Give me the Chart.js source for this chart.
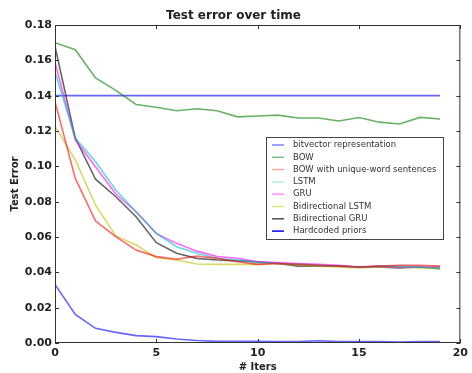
<!DOCTYPE html>
<html>
<head>
<meta charset="utf-8">
<script src="https://cdn.jsdelivr.net/npm/chart.js@4"></script>
<style>
  html, body { margin: 0; padding: 0; background: #fff; }
  #wrap { width: 472px; height: 373px; }
</style>
</head>
<body>
<div id="wrap"><canvas id="chart" width="472" height="373"></canvas></div>
<script>
// valores
const iters = [0, 1, 2, 3, 4, 5, 6, 7, 8, 9, 10, 11, 12, 13, 14, 15, 16, 17, 18, 19];

const bitvector = [0.0332, 0.0162, 0.0083, 0.0060, 0.0042, 0.0036, 0.0023, 0.0014, 0.0009, 0.0010,
                   0.0010, 0.0008, 0.0008, 0.0013, 0.0008, 0.0008, 0.0008, 0.0005, 0.0008, 0.0008];
const bow = [0.170, 0.166, 0.150, 0.143, 0.135, 0.1334, 0.1315, 0.1326, 0.1315, 0.128,
             0.1285, 0.129, 0.1274, 0.1274, 0.1257, 0.1276, 0.125, 0.124, 0.1277, 0.1268];
const bowUnique = [0.1366, 0.0932, 0.069, 0.0602, 0.0526, 0.0489, 0.0474, 0.0492, 0.0479, 0.046,
                   0.0445, 0.045, 0.0445, 0.044, 0.0435, 0.043, 0.0435, 0.044, 0.044, 0.0435];
const lstm = [0.1535, 0.116, 0.1026, 0.0866, 0.0743, 0.0621, 0.0545, 0.0508, 0.048, 0.047,
              0.0455, 0.045, 0.0445, 0.044, 0.0435, 0.043, 0.0435, 0.0435, 0.043, 0.0425];
const gru = [0.159, 0.115, 0.0998, 0.0843, 0.0743, 0.0619, 0.0564, 0.052, 0.049, 0.048,
             0.046, 0.0455, 0.045, 0.0445, 0.044, 0.043, 0.0435, 0.043, 0.043, 0.043];
const biLstm = [0.1228, 0.1036, 0.078, 0.0606, 0.0555, 0.0483, 0.047, 0.0447, 0.0445, 0.0445,
                0.0445, 0.045, 0.044, 0.0435, 0.043, 0.0425, 0.043, 0.043, 0.0425, 0.042];
const biGru = [0.168, 0.116, 0.0927, 0.0828, 0.0715, 0.0568, 0.0508, 0.0479, 0.047, 0.0465,
               0.046, 0.045, 0.0435, 0.0435, 0.0435, 0.043, 0.043, 0.0425, 0.043, 0.042];
const hardcoded = iters.map(() => 0.14);

const seriesNames = ['bitvector representation', 'BOW', 'BOW with unique-word sentences', 'LSTM',
                     'GRU', 'Bidirectional LSTM', 'Bidirectional GRU', 'Hardcoded priors'];
const seriesValues = [bitvector, bow, bowUnique, lstm, gru, biLstm, biGru, hardcoded];
const seriesColors = ['rgba(0,0,255,0.6)', 'rgba(0,128,0,0.6)', 'rgba(255,0,0,0.6)', 'rgba(0,191,191,0.6)',
                      'rgba(255,0,255,0.6)', 'rgba(191,191,0,0.6)', 'rgba(0,0,0,0.6)', 'rgba(0,0,255,0.6)'];
const legendColors = ['rgba(0,0,255,0.5)', 'rgba(0,128,0,0.5)', 'rgba(255,0,0,0.35)', 'rgba(0,191,191,0.3)',
                      'rgba(255,0,255,0.45)', 'rgba(191,191,0,0.5)', 'rgba(0,0,0,0.7)', 'rgba(0,0,255,1)'];

const yTicks = [0, 0.02, 0.04, 0.06, 0.08, 0.10, 0.12, 0.14, 0.16, 0.18];
const xTicks = [0, 5, 10, 15, 20];

const datasets = seriesNames.map((name, i) => ({
    label: name,
    data: iters.map((x, j) => ({ x: x, y: seriesValues[i][j] })),
    borderColor: seriesColors[i],
    backgroundColor: seriesColors[i],
    legendColor: legendColors[i],
    borderWidth: 1.6,
    pointRadius: 0,
    tension: 0,
    fill: false
}));

// moldura e ticks para dentro, estilo matplotlib
const framePlugin = {
    id: 'frame',
    afterDatasetsDraw(chart) {
        const ctx = chart.ctx;
        const a = chart.chartArea;
        const xs = chart.scales.x, ys = chart.scales.y;
        ctx.save();
        ctx.strokeStyle = '#333';
        ctx.lineWidth = 1;
        ctx.strokeRect(a.left + 0.5, a.top + 0.5, a.right - a.left - 1, a.bottom - a.top - 1);
        ctx.beginPath();
        xTicks.forEach(v => {
            const px = Math.round(xs.getPixelForValue(v)) + 0.5;
            ctx.moveTo(px, a.bottom); ctx.lineTo(px, a.bottom - 4);
            ctx.moveTo(px, a.top); ctx.lineTo(px, a.top + 4);
        });
        yTicks.forEach(v => {
            const py = Math.round(ys.getPixelForValue(v)) + 0.5;
            ctx.moveTo(a.left, py); ctx.lineTo(a.left + 4, py);
            ctx.moveTo(a.right, py); ctx.lineTo(a.right - 4, py);
        });
        ctx.stroke();
        ctx.restore();
    }
};

// legenda dentro da area do grafico
const legendPlugin = {
    id: 'innerLegend',
    afterDraw(chart) {
        const ctx = chart.ctx;
        const box = { x: 266, y: 137, w: 177, h: 102 };
        ctx.save();
        ctx.fillStyle = '#fff';
        ctx.fillRect(box.x, box.y, box.w, box.h);
        ctx.strokeStyle = '#444';
        ctx.lineWidth = 1;
        ctx.strokeRect(box.x + 0.5, box.y + 0.5, box.w, box.h);
        ctx.font = '8.5px "DejaVu Sans"';
        ctx.textBaseline = 'middle';
        chart.data.datasets.forEach((ds, i) => {
            const y = box.y + 8 + i * 12.3;
            ctx.strokeStyle = ds.legendColor;
            ctx.lineWidth = 1.5;
            ctx.beginPath();
            ctx.moveTo(272, y); ctx.lineTo(284, y);
            ctx.stroke();
            ctx.fillStyle = '#333';
            ctx.fillText(ds.label, 293, y);
        });
        ctx.restore();
    }
};

new Chart(document.getElementById('chart'), {
    type: 'line',
    data: { datasets: datasets },
    plugins: [framePlugin, legendPlugin],
    options: {
        responsive: false,
        animation: false,
        layout: { autoPadding: false, padding: { left: 0, right: 5, top: 0, bottom: 0 } },
        scales: {
            x: {
                type: 'linear',
                min: 0,
                max: 20,
                afterFit: scale => { scale.height = 30; },
                afterBuildTicks: scale => { scale.ticks = xTicks.map(v => ({ value: v })); },
                grid: { display: false, drawTicks: false },
                border: { display: false },
                ticks: {
                    padding: 4,
                    color: '#222',
                    font: { family: 'DejaVu Sans', size: 11, weight: 'bold' },
                    maxRotation: 0
                },
                title: {
                    display: true,
                    text: '# Iters',
                    color: '#222',
                    padding: { top: 0, bottom: 0 },
                    font: { family: 'DejaVu Sans', size: 10, weight: 'bold' }
                }
            },
            y: {
                min: 0,
                max: 0.18,
                afterFit: scale => { scale.width = 55; },
                afterBuildTicks: scale => { scale.ticks = yTicks.map(v => ({ value: v })); },
                grid: { display: false, drawTicks: false },
                border: { display: false },
                ticks: {
                    padding: 3,
                    color: '#222',
                    font: { family: 'DejaVu Sans', size: 11, weight: 'bold' },
                    callback: v => v.toFixed(2)
                },
                title: {
                    display: true,
                    text: 'Test Error',
                    color: '#222',
                    padding: { top: 9, bottom: 0 },
                    font: { family: 'DejaVu Sans', size: 10, weight: 'bold' }
                }
            }
        },
        plugins: {
            legend: { display: false },
            tooltip: { enabled: false },
            title: {
                display: true,
                text: 'Test error over time',
                color: '#222',
                padding: { top: 9, bottom: 1.6 },
                font: { family: 'DejaVu Sans', size: 12, weight: 'bold' }
            }
        }
    }
});
</script>
</body>
</html>
